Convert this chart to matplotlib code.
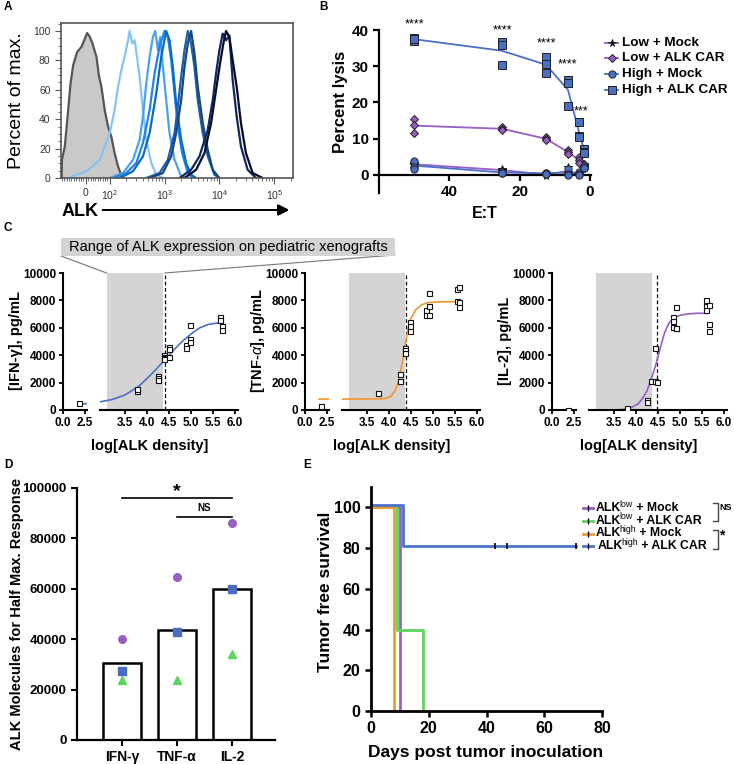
import matplotlib.pyplot as plt
from matplotlib.lines import Line2D
from matplotlib.patches import Rectangle, ConnectionPatch
from matplotlib.ticker import FixedLocator, MultipleLocator, NullFormatter
import numpy as np

plt.rcParams['font.family'] = ['Liberation Sans', 'DejaVu Sans']
plt.rcParams['mathtext.fontset'] = 'custom'
plt.rcParams['mathtext.rm'] = 'Liberation Sans'
plt.rcParams['mathtext.it'] = 'Liberation Sans:italic'
plt.rcParams['mathtext.bf'] = 'Liberation Sans:bold'

W, H = 734, 764

# ---- A: flow histograms (fluorescence, % of max)
ctrl_x = [-101, -100, -88, -74, -64, -53, -36, -18, -4, 5.5, 16.7, 28, 44.5, 55.5,
          65.4, 79, 93, 107, 123, 142, 170]
ctrl_y = [0, 12.4, 21.4, 46, 64.3, 76.7, 85.8, 89.2, 94.8, 98.6, 95.9, 91.4, 82.4,
          68.8, 62, 46.3, 35, 28.2, 16.9, 7.9, 0]
hist_x = [
    [-60, 3, 58, 100, 123, 142, 163, 187, 216, 231, 258, 285, 314, 351, 404, 464, 573, 705, 935],
    [100, 175, 266, 351, 404, 464, 534, 614, 677, 757, 834, 933, 1072, 1233, 1520, 2009, 2477],
    [115, 201, 305, 404, 534, 658, 811, 1000, 1150, 1322, 1520, 1748, 2096, 2656, 3275],
    [152, 265, 404, 534, 706, 870, 1072, 1233, 1418, 1630, 2009, 2477, 3053, 3765],
    [464, 811, 1150, 1520, 1748, 2009, 2310, 2656, 3053, 3511, 4037, 4977, 6136, 8110, 10000],
    [534, 933, 1322, 1630, 2009, 2310, 2656, 3053, 3511, 4037, 4977, 6136, 7566, 10000],
    [1874, 3053, 4329, 6136, 7566, 8700, 10000, 11500, 13220, 15200, 17480, 20670, 24770, 32750, 46420],
    [2310, 3765, 5337, 7055, 8700, 10280, 11820, 13220, 15200, 17480, 20670, 24770, 30530, 40370, 61360],
]
hist_y = [
    [1.1, 4.5, 12.4, 30.5, 46.3, 62.1, 73.4, 82.4, 93.7, 100, 91.4, 93.7, 82.4, 68.8, 46.3, 26, 10.2, 2.3, 0],
    [0, 3.4, 12.4, 26, 41.8, 64.3, 82.4, 95.9, 100, 86.9, 95.9, 75.6, 53, 30.5, 12.4, 1.1, 0],
    [0, 3.4, 10.2, 23.7, 46.3, 71.1, 89.2, 100, 95.9, 80.1, 57.6, 35, 16.9, 3.4, 0],
    [0, 4.5, 14.7, 30.5, 57.6, 82.4, 100, 93.7, 75.6, 50.8, 26, 10.2, 2.3, 0],
    [0, 3.4, 12.4, 30.5, 48.5, 68.8, 86.9, 100, 91.4, 75.6, 53, 30.5, 14.7, 2.3, 0],
    [0, 3.4, 14.7, 30.5, 53, 75.6, 91.4, 100, 84.7, 62.1, 37.2, 19.2, 5.6, 0],
    [0, 5.6, 14.7, 32.7, 53, 71.1, 86.9, 98.2, 93.7, 96.9, 66.6, 41.8, 21.4, 5.6, 0],
    [0, 5.6, 16.9, 37.2, 59.8, 77.9, 91.4, 100, 95.9, 80.1, 62.1, 37.2, 16.9, 3.4, 0],
]
hist_colors = ['#86c3f7', '#4aa2f0', '#1f86e6', '#0b69c8', '#1d5ea6', '#174680', '#0c2b5c', '#070b30']

# ---- B: cytotoxicity
et = [50, 25, 12.5, 6.25, 3.125, 1.5625]
low_mock = [[3.2, 2.9, 2.7], [1.6, 1.3, 1.1], [0.3, 0.1, -0.2], [2.2, 0.6, 0.4], [0.6, 0.3, 0.1], [2.9, 2.6, 2.4]]
low_car = [[15.4, 13.7, 11.7], [13.1, 12.7, 12.4], [10.4, 9.8, 9.7], [6.9, 6.2, 5.8], [4.9, 4.1, 3.4], [3.0, 2.5, 2.3]]
high_mock = [[3.7, 2.3, 1.7], [0.9, 0.6, 0.5], [0.6, 0.5, 0.3], [1.7, 0.3, 0.0], [0.9, 0.3, 0.0], [2.5, 2.0, 1.8]]
high_car = [[37.9, 37.1, 37.4], [36.6, 35.9, 30.3], [32.5, 30.5, 28.2], [26.2, 25.3, 18.9], [14.7, 10.6, 10.4], [7.2, 6.4, 6.0]]
lysis_labels = ['Low + Mock', 'Low + ALK CAR', 'High + Mock', 'High + ALK CAR']
sig_x = [50, 25, 12.5, 6.25, 2.4]
sig_y = [41.6, 39.8, 36.4, 30.4, 17.6]
sig_txt = ['****', '****', '****', '****', '***']

# ---- C: cytokine vs ALK density
band = [3.08, 4.37]
ec50 = [4.40, 4.38, 4.47]
cyto_labels = ['[IFN-γ], pg/mL', '[TNF-$\\mathit{α}$], pg/mL', '[IL-2], pg/mL']
cyto_colors = ['#4a6fc8', '#f0962e', '#9a5cc6']
ifn_x = [1.8, 3.77, 3.77, 4.24, 4.24, 4.24, 4.39, 4.39, 4.39, 4.39, 4.5, 4.5, 4.5,
         4.88, 4.88, 4.97, 4.97, 4.97, 5.65, 5.65, 5.7, 5.7]
ifn_y = [500, 1400, 1500, 2500, 2300, 2200, 4000, 3900, 3800, 3700, 4600, 4450, 3900,
         4750, 4500, 5200, 5000, 6200, 6800, 6550, 6100, 5850]
tnf_x = [1.8, 3.76, 4.24, 4.24, 4.36, 4.36, 4.36, 4.47, 4.47, 4.47, 4.83, 4.83,
         4.92, 4.92, 4.92, 5.55, 5.6, 5.55, 5.6, 5.6]
tnf_y = [300, 1250, 2600, 2150, 4500, 4350, 4150, 6450, 6150, 5800, 7300, 6900,
         8550, 7600, 6900, 8850, 8950, 7950, 7850, 7550]
il2_x = [1.8, 3.8, 4.25, 4.25, 4.33, 4.43, 4.43, 4.48, 4.83, 4.83, 4.83, 4.92, 4.92,
         4.92, 5.6, 5.6, 5.6, 5.65, 5.65, 5.65]
il2_y = [30, 150, 700, 600, 2100, 2150, 4550, 2050, 6800, 6500, 6050, 7550, 6000,
         5950, 8050, 7600, 7300, 7700, 6300, 5800]
ifn_fit_x = [1.8, 2.73, 2.93, 3.2, 3.5, 3.8, 4.0, 4.2, 4.4, 4.6, 4.8, 5.0, 5.2, 5.4, 5.7]
ifn_fit_y = [420, 470, 600, 760, 1100, 1700, 2300, 2950, 3650, 4350, 5000, 5550, 6000, 6250, 6400]
tnf_fit_x = [1.6, 2.73, 2.93, 3.5, 3.9, 4.05, 4.15, 4.22, 4.28, 4.33, 4.38, 4.43, 4.5,
             4.6, 4.75, 4.9, 5.2, 5.6]
tnf_fit_y = [800, 800, 800, 800, 830, 1000, 1500, 2200, 3100, 4000, 5000, 5900, 6700,
             7300, 7700, 7850, 7900, 7900]
il2_fit_x = [1.8, 2.73, 2.93, 3.5, 3.7, 3.9, 4.05, 4.15, 4.25, 4.35, 4.45, 4.55, 4.65,
             4.75, 4.85, 5.0, 5.2, 5.4, 5.65]
il2_fit_y = [0, 0, 0, 0, 40, 200, 450, 850, 1400, 2300, 3300, 4500, 5650, 6350, 6700,
             6920, 7020, 7060, 7060]
pts_x = [ifn_x, tnf_x, il2_x]
pts_y = [ifn_y, tnf_y, il2_y]
fit_x = [ifn_fit_x, tnf_fit_x, il2_fit_x]
fit_y = [ifn_fit_y, tnf_fit_y, il2_fit_y]

# ---- D: ALK molecules for half-max response
cytokines = ['IFN-γ', 'TNF-α', 'IL-2']
half_max = [30400, 43700, 60000]
donor_circle = [40200, 64600, 86300]
donor_square = [27300, 43000, 60000]
donor_triangle = [23800, 23700, 34300]

# ---- E: tumor free survival
surv_sup = ['low', 'low', 'high', 'high']
surv_arm = [' + Mock', ' + ALK CAR', ' + Mock', ' + ALK CAR']
surv_colors = ['#9b5fc8', '#5fd35f', '#f39a2b', '#4b73cc']
surv_t = [[0, 10.1], [0, 9.1, 18.1], [0, 8.0], [0, 11.2, 71]]
surv_s = [[100, 0], [100, 40, 0], [100, 0], [101, 81, 81]]
censor_t = [43, 47, 71]
censor_s = [81, 81, 81]


def box(l, t, r, b):
    return [l / W, 1 - b / H, (r - l) / W, (b - t) / H]


def fx(px):
    return px / W


def fy(py):
    return 1 - py / H


def fig_line(xs, ys, **kw):
    fig.add_artist(Line2D([fx(v) for v in xs], [fy(v) for v in ys],
                          transform=fig.transFigure, **kw))


fig = plt.figure(figsize=(W / 100, H / 100), dpi=100)
renderer = fig.canvas.get_renderer()

# ===================== A
axA = fig.add_axes(box(61, 23, 293, 178))
axA.set_xscale('symlog', linthresh=100, linscale=0.392)
axA.fill_between(ctrl_x, ctrl_y, color='#c9c9c9', lw=0)
axA.plot(ctrl_x, ctrl_y, color='#555555', lw=1.6)
for xs, ys, c in zip(hist_x, hist_y, hist_colors):
    axA.plot(xs, ys, color=c, lw=1.6)
axA.set_xlim(-104, 2.2e5)
axA.set_ylim(0, 105.4)
axA.set_xticks([0, 1e2, 1e3, 1e4, 1e5])
axA.set_xticklabels(['0', '$10^2$', '$10^3$', '$10^4$', '$10^5$'])
minors = list(range(-100, 100, 10))
for d in [100, 1000, 10000, 100000]:
    minors += [d * k for k in range(2, 10)]
axA.xaxis.set_minor_locator(FixedLocator(minors))
axA.xaxis.set_minor_formatter(NullFormatter())
axA.set_yticks([0, 20, 40, 60, 80, 100])
axA.yaxis.set_minor_locator(MultipleLocator(5))
for s in axA.spines.values():
    s.set_color('#555555')
    s.set_linewidth(1.2)
axA.tick_params(which='both', colors='#555555', labelsize=7.5, labelcolor='#333333')
axA.tick_params(which='major', length=4)
axA.tick_params(which='minor', length=2)
axA.set_ylabel('Percent of max.', fontsize=14, labelpad=6)
fig.text(fx(62), fy(211), 'ALK', fontsize=13, fontweight='bold', va='center')
fig.add_artist(plt.annotate('', xy=(fx(292), fy(210)), xytext=(fx(100), fy(210)),
                            xycoords='figure fraction',
                            arrowprops=dict(arrowstyle='-|>', lw=1.4, color='k',
                                            mutation_scale=16)))

# ===================== B
axB = fig.add_axes(box(379, 30, 591, 193))
lysis_sets = [low_mock, low_car, high_mock, high_car]
line_cols = ['#9a5cc6', '#9a5cc6', '#4a6fc8', '#4a6fc8']
mk = ['*', 'D', 'o', 's']
mk_cols = ['k', '#9a5cc6', '#4a6fc8', '#4a6fc8']
mk_size = [5.5, 4.2, 5.2, 5.5]
for vals, lc, m, mc, ms in zip(lysis_sets, line_cols, mk, mk_cols, mk_size):
    arr = np.array(vals)
    axB.plot(et, arr.mean(axis=1), color=lc, lw=1.3, zorder=2)
    for k in range(arr.shape[1]):
        axB.plot(et, arr[:, k], ls='none', marker=m, ms=ms, mfc=mc, mec='#222222',
                 mew=0.7, zorder=3)
for x, y, t in zip(sig_x, sig_y, sig_txt):
    axB.text(x, y, t, ha='center', va='center', fontsize=9, clip_on=False)
axB.set_xlim(60, -0.3)
axB.set_ylim(-5, 40)
axB.set_xticks([40, 20, 0])
axB.set_yticks([0, 10, 20, 30, 40])
axB.spines['top'].set_visible(False)
axB.spines['right'].set_visible(False)
axB.spines['bottom'].set_position(('data', 0))
for s in ['left', 'bottom']:
    axB.spines[s].set_linewidth(1.6)
axB.tick_params(labelsize=11, width=1.6, length=4)
for lab in axB.get_xticklabels() + axB.get_yticklabels():
    lab.set_fontweight('bold')
fig.text(fx(341), fy(102), 'Percent lysis', rotation=90, fontsize=12, fontweight='bold',
         ha='center', va='center')
fig.text(fx(485), fy(213), 'E:T', fontsize=11.5, fontweight='bold', ha='center', va='center')
# legend drawn by hand
for i in range(4):
    yrow = 42.7 + 15.7 * i
    fig_line([605, 618], [yrow, yrow], color=line_cols[i], lw=1.3)
    fig_line([611.5], [yrow], ls='none', marker=mk[i], ms=mk_size[i], mfc=mk_cols[i],
             mec='#222222', mew=0.7)
    fig.text(fx(622), fy(yrow), lysis_labels[i], fontsize=9.7, fontweight='bold', va='center')

# ===================== C
c_x0 = [63, 305, 552]
for i in range(3):
    x0 = c_x0[i]
    axL = fig.add_axes(box(x0, 273, x0 + 24, 410))
    axR = fig.add_axes(box(x0 + 37, 273, x0 + 175, 410))
    axR.axvspan(band[0], band[1], color='#d4d4d4', lw=0, zorder=0)
    axR.axvline(ec50[i], color='k', lw=0.9, ls=(0, (3, 2)), zorder=1)
    for ax in (axL, axR):
        ax.plot(fit_x[i], fit_y[i], color=cyto_colors[i], lw=1.2, zorder=2)
        ax.plot(pts_x[i], pts_y[i], ls='none', marker='s', ms=3.6, mfc='white',
                mec='#111111', mew=0.8, zorder=3)
        ax.set_ylim(0, 10000)
        ax.spines['top'].set_visible(False)
        ax.spines['right'].set_visible(False)
        ax.spines['left'].set_linewidth(1.5)
        ax.spines['bottom'].set_linewidth(1.5)
        ax.tick_params(labelsize=8.5, width=1.3, length=3, pad=2)
    axL.set_xlim(0, 2.73)
    axL.set_xticks([0, 2.5])
    axL.set_xticklabels(['0.0', '2.5'])
    axL.set_yticks(range(0, 10001, 2000))
    axR.set_xlim(2.93, 6.07)
    axR.set_xticks([3.5, 4.0, 4.5, 5.0, 5.5, 6.0])
    axR.set_xticklabels(['3.5', '4.0', '4.5', '5.0', '5.5', '6.0'])
    axR.spines['left'].set_visible(False)
    axR.set_yticks([])
    for ax in (axL, axR):
        for lab in ax.get_xticklabels() + ax.get_yticklabels():
            lab.set_fontweight('bold')
    fig.text(fx(x0 - 47), fy(341), cyto_labels[i], rotation=90, fontsize=10.5,
             fontweight='bold', ha='center', va='center')
    fig.text(fx(x0 + 87), fy(446), 'log[ALK density]', fontsize=10.5,
             fontweight='bold', ha='center', va='center')
    if i == 0:
        fig.add_artist(ConnectionPatch(xyA=(fx(61), fy(256)), coordsA=fig.transFigure,
                                       xyB=(band[0], 10000), coordsB=axR.transData,
                                       color='#777777', lw=0.8))
        fig.add_artist(ConnectionPatch(xyA=(fx(395), fy(255)), coordsA=fig.transFigure,
                                       xyB=(ec50[0], 10000), coordsB=axR.transData,
                                       color='#777777', lw=0.8))

fig.add_artist(Rectangle((fx(61), fy(256)), fx(395) - fx(61), fy(238) - fy(256),
                         transform=fig.transFigure, fc='#d3d3d3', ec='none'))
fig.text(fx(228), fy(247), 'Range of ALK expression on pediatric xenografts',
         fontsize=10.5, ha='center', va='center')

# ===================== D
axD = fig.add_axes(box(77, 488, 275, 740))
xd = np.arange(len(cytokines))
axD.bar(xd, half_max, width=0.69, color='white', edgecolor='black', lw=1.8, zorder=1)
axD.plot(xd, donor_circle, ls='none', marker='o', ms=5.5, color='#9b5fc0', zorder=3)
axD.plot(xd, donor_square, ls='none', marker='s', ms=5.5, color='#4b6cc1', zorder=3)
axD.plot(xd, donor_triangle, ls='none', marker='^', ms=5.5, color='#5bd45b', zorder=3)
axD.plot([0, 2], [96000, 96000], color='k', lw=1.2)
axD.text(1, 98500, '*', ha='center', va='center', fontsize=14, fontweight='bold')
axD.plot([1, 2], [88500, 88500], color='k', lw=1.2)
axD.text(1.5, 92000, 'NS', ha='center', va='center', fontsize=7, fontweight='bold')
axD.set_xlim(-0.82, 2.78)
axD.set_ylim(0, 100000)
axD.set_xticks(xd)
axD.set_xticklabels(cytokines)
axD.set_yticks(range(0, 100001, 20000))
axD.spines['top'].set_visible(False)
axD.spines['right'].set_visible(False)
for s in ['left', 'bottom']:
    axD.spines[s].set_linewidth(1.6)
axD.tick_params(axis='y', labelsize=9.5, width=1.5, length=4)
axD.tick_params(axis='x', labelsize=10, width=1.5, length=4)
for lab in axD.get_xticklabels() + axD.get_yticklabels():
    lab.set_fontweight('bold')
fig.text(fx(17), fy(614), 'ALK Molecules for Half Max. Response', rotation=90,
         fontsize=10.5, fontweight='bold', ha='center', va='center')

# ===================== E
axE = fig.add_axes(box(371, 487, 602, 711))
for t, s, c in zip(surv_t, surv_s, surv_colors):
    axE.plot(t, s, drawstyle='steps-post', color=c, lw=2, clip_on=False)
axE.plot(censor_t, censor_s, ls='none', marker='|', ms=4, mec='k', mew=1.2)
axE.set_xlim(0, 80)
axE.set_ylim(0, 110)
axE.set_xticks(range(0, 81, 20))
axE.set_yticks(range(0, 101, 20))
axE.spines['top'].set_visible(False)
axE.spines['right'].set_visible(False)
for s in ['left', 'bottom']:
    axE.spines[s].set_linewidth(2)
axE.tick_params(labelsize=11.5, width=1.8, length=4)
for lab in axE.get_xticklabels() + axE.get_yticklabels():
    lab.set_fontweight('bold')
fig.text(fx(325), fy(592), 'Tumor free survival', rotation=90, fontsize=12.5,
         fontweight='bold', ha='center', va='center')
fig.text(fx(486), fy(753), 'Days post tumor inoculation', fontsize=12.5,
         fontweight='bold', ha='center', va='center')
# legend drawn by hand: ALK + superscript + arm, placed piece by piece
for i in range(4):
    yrow = 508.3 + 12.6 * i
    fig_line([583, 593], [yrow, yrow], color=surv_colors[i], lw=2)
    fig_line([588], [yrow], ls='none', marker='|', ms=4, mec='k', mew=1)
    xcur = fx(596 + (2 if i == 3 else 0))
    for piece, size, dy, wt, back in [('ALK', 8.8, 0, 'bold', 1.5),
                                      (surv_sup[i], 6.3, -4, 'normal', 0),
                                      (surv_arm[i], 8.8, 0, 'bold', 0)]:
        t = fig.text(xcur, fy(yrow + dy), piece, fontsize=size, fontweight=wt, va='center')
        xcur = (t.get_window_extent(renderer).x1 - back) / fig.bbox.width
for ytop, ybot, mark, ty in [(503, 521, 'NS', 508), (530, 549, '*', 535)]:
    fig_line([713, 718, 718, 713], [ytop, ytop, ybot, ybot], color='#444444', lw=1)
    fig.text(fx(719.5), fy(ty), mark, fontsize=6.5 if mark == 'NS' else 10,
             fontweight='bold', va='center')

# panel letters
for lt, px, py in [('A', 4, 7), ('B', 319, 7), ('C', 4, 228), ('D', 4, 465), ('E', 303, 465)]:
    fig.text(fx(px), fy(py), lt, fontsize=8.5, fontweight='bold', va='center')

fig.savefig('out.png', dpi=100)
